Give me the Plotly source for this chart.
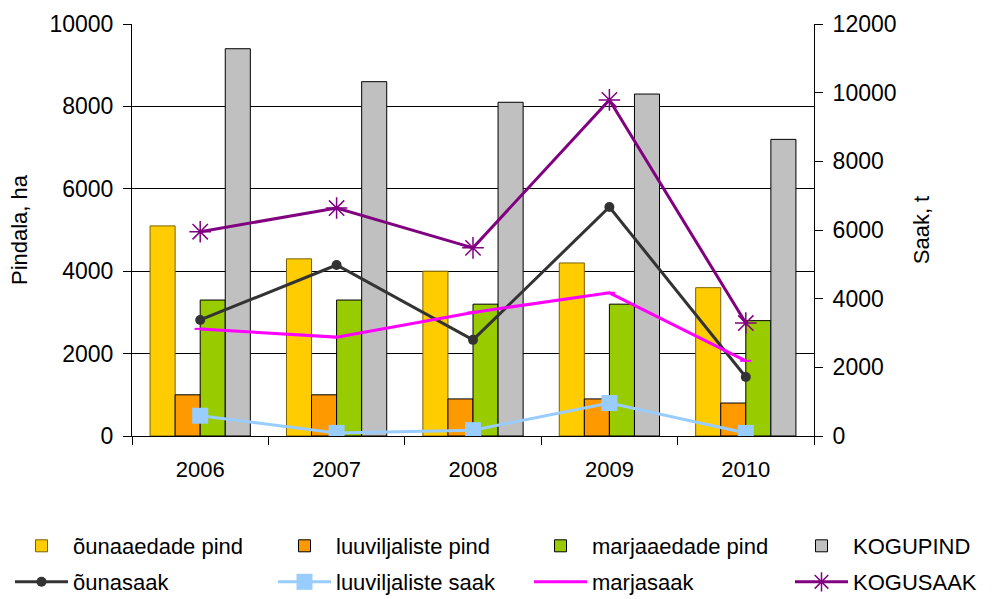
import plotly.graph_objects as go

years = ["2006", "2007", "2008", "2009", "2010"]

# areas, ha (left axis)
ouna_pind = [5100, 4300, 4000, 4200, 3600]
luu_pind = [1000, 1000, 900, 900, 800]
marja_pind = [3300, 3300, 3200, 3200, 2800]
kogu_pind = [9400, 8600, 8100, 8300, 7200]

# harvest, t (right axis)
ouna_saak = [3380, 4980, 2800, 6670, 1720]
luu_saak = [590, 90, 170, 960, 90]
marja_saak = [3120, 2880, 3600, 4170, 2190]
kogu_saak = [5950, 6640, 5480, 9790, 3290]

left_ticks = [0, 2000, 4000, 6000, 8000, 10000]
right_ticks = [0, 2000, 4000, 6000, 8000, 10000, 12000]

FONT = "Liberation Sans, Arial, sans-serif"

fig = go.Figure()

bars = [
    ("õunaaedade pind", ouna_pind, "#FFCC00", "#7a6200", "legend"),
    ("luuviljaliste pind", luu_pind, "#FF9900", "#000000", "legend2"),
    ("marjaaedade pind", marja_pind, "#99CC00", "#000000", "legend3"),
    ("KOGUPIND", kogu_pind, "#C0C0C0", "#000000", "legend4"),
]
for name, vals, color, edge, leg in bars:
    fig.add_trace(go.Bar(
        x=years, y=vals, name=name,
        marker=dict(color=color, line=dict(color=edge, width=1)),
        legend=leg,
    ))

lines = [
    ("õunasaak", ouna_saak, "#333333", dict(symbol="circle", size=10), "legend5"),
    ("luuviljaliste saak", luu_saak, "#99CCFF", dict(symbol="square", size=16), "legend6"),
    ("marjasaak", marja_saak, "#FF00FF", dict(symbol="line-ew-open", size=8, line=dict(width=2, color="#FF00FF")), "legend7"),
    ("KOGUSAAK", kogu_saak, "#800080", dict(symbol="asterisk-open", size=18, line=dict(width=1.5, color="#800080")), "legend8"),
]
for name, vals, color, marker, leg in lines:
    fig.add_trace(go.Scatter(
        x=years, y=vals, name=name, yaxis="y2",
        mode="lines+markers",
        line=dict(color=color, width=3),
        marker=dict(color=color, **marker),
        legend=leg,
    ))

# legend layout: 2 rows x 4 columns placed below the plot
L, R, T, B = 132, 180, 24, 163
W, H = 994 - L - R, 599 - T - B
col_px = [10, 273, 529, 790]
row_px = [546, 582]


def leg(i):
    cx = col_px[i % 4]
    cy = row_px[i // 4]
    return dict(
        x=(cx - L) / W, y=(599 - B - cy) / H,
        xanchor="left", yanchor="middle",
        orientation="h", itemwidth=53,
        font=dict(family=FONT, size=22, color="#000"),
        bgcolor="rgba(0,0,0,0)",
    )


legends = {("legend" if i == 0 else f"legend{i + 1}"): leg(i) for i in range(8)}

fig.update_layout(
    width=994, height=599,
    margin=dict(l=L, r=R, t=T, b=B, autoexpand=False),
    paper_bgcolor="white", plot_bgcolor="white",
    barmode="group", bargap=0.265, bargroupgap=0,
    font=dict(family=FONT, size=22, color="#000"),
    showlegend=True,
    xaxis=dict(
        type="category", showline=True, linecolor="#000", linewidth=1,
        ticks="outside", ticklen=8, tickcolor="#000", tickson="boundaries",
        showgrid=False, tickfont=dict(size=22), ticklabelstandoff=14,
    ),
    yaxis=dict(
        range=[0, 10000], tickvals=left_ticks, tickformat="d",
        showline=True, linecolor="#000", linewidth=1,
        ticks="outside", ticklen=8, tickcolor="#000",
        tickfont=dict(size=23), ticklabelstandoff=5,
        showgrid=True, gridcolor="#000", gridwidth=1, zeroline=False,
        title=dict(text="Pindala, ha", font=dict(size=22), standoff=15),
    ),
    yaxis2=dict(
        range=[0, 12000], tickvals=right_ticks, tickformat="d",
        overlaying="y", side="right",
        showline=True, linecolor="#000", linewidth=1,
        ticks="outside", ticklen=8, tickcolor="#000",
        tickfont=dict(size=23), ticklabelstandoff=5,
        showgrid=False, zeroline=False,
        title=dict(text="Saak, t", font=dict(size=22), standoff=18),
    ),
    yaxis3=dict(
        range=[0, 12000], tickvals=right_ticks, overlaying="y", side="right",
        ticks="inside", ticklen=8, tickcolor="#000", showticklabels=False,
        showgrid=False, zeroline=False, showline=False,
    ),
    **legends,
)

fig.write_html(
    "out.html",
    config={"displayModeBar": False},
    post_script="document.body.style.margin='0';",
)
